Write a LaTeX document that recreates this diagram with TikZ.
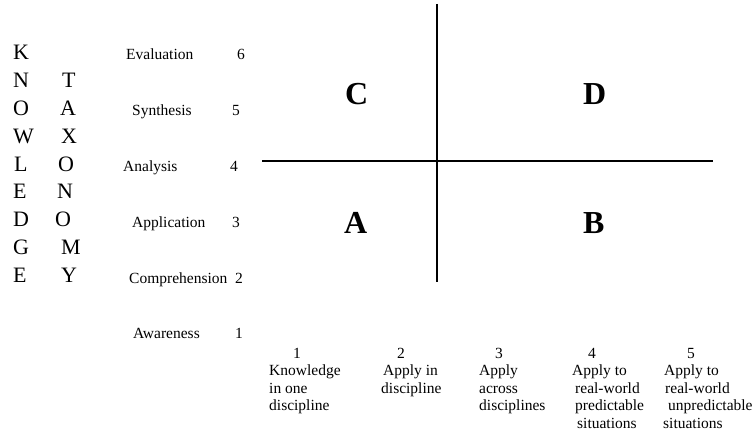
\documentclass[tikz,border=0pt]{standalone}
\usepackage{fontspec}
\setmainfont{Liberation Serif}
\begin{document}
\begin{tikzpicture}[x=1pt,y=-1pt,
  lbl/.style={anchor=base west,inner sep=0pt,font=\fontsize{15.5}{17}\selectfont},
  big/.style={anchor=base west,inner sep=0pt,font=\fontsize{22}{24}\selectfont},
  quad/.style={anchor=base west,inner sep=0pt,font=\fontsize{32}{34}\selectfont\bfseries},
  axis/.style={line width=1.5pt}]
\useasboundingbox (0,0) rectangle (754,433);
% KNOWLEDGE column
\node[big] (k1) at (13,60) {K};
\node[big] (k2) at (13,87.75) {N};
\node[big] (k3) at (13,115.5) {O};
\node[big] (k4) at (13,143.25) {W};
\node[big] (k5) at (14,171) {L};
\node[big] (k6) at (13,198.75) {E};
\node[big] (k7) at (13,226.5) {D};
\node[big] (k8) at (13,254.25) {G};
\node[big] (k9) at (13,282) {E};
% TAXONOMY column
\node[big] (t1) at (62,87.75) {T};
\node[big] (t2) at (60,115.5) {A};
\node[big] (t3) at (61,143.25) {X};
\node[big] (t4) at (58,171) {O};
\node[big] (t5) at (57,198.75) {N};
\node[big] (t6) at (55,226.5) {O};
\node[big] (t7) at (61,254.25) {M};
\node[big] (t8) at (61,282) {Y};
% levels
\node[lbl] (l6) at (126,60) {Evaluation};
\node[lbl] (n6) at (237,60) {6};
\node[lbl] (l5) at (132,116) {Synthesis};
\node[lbl] (n5) at (232,116) {5};
\node[lbl] (l4) at (123,171) {Analysis};
\node[lbl] (n4) at (230,171) {4};
\node[lbl] (l3) at (132,227) {Application};
\node[lbl] (n3) at (232,227) {3};
\node[lbl] (l2) at (129,283) {Comprehension};
\node[lbl] (n2) at (235,283) {2};
\node[lbl] (l1) at (133,338) {Awareness};
\node[lbl] (n1) at (235,338) {1};
% quadrant axes
\coordinate (vtop) at (437,4);
\coordinate (vbot) at (437,282);
\coordinate (hl) at (262,161);
\coordinate (hr) at (713,161);
\draw[axis] (vtop) -- (vbot);
\draw[axis] (hl) -- (hr);
% quadrant letters
\node[quad] (qC) at (345,105) {C};
\node[quad] (qD) at (583,105) {D};
\node[quad] (qA) at (344,233) {A};
\node[quad] (qB) at (583,233) {B};
% bottom scale
\node[lbl] (d1) at (293,358) {1};
\node[lbl] (c1a) at (269,375.5) {Knowledge};
\node[lbl] (c1b) at (269,393) {in one};
\node[lbl] (c1c) at (269,410.5) {discipline};
\node[lbl] (d2) at (397,358) {2};
\node[lbl] (c2a) at (383,375.5) {Apply in};
\node[lbl] (c2b) at (381,393) {discipline};
\node[lbl] (d3) at (495,358) {3};
\node[lbl] (c3a) at (479,375.5) {Apply};
\node[lbl] (c3b) at (479,393) {across};
\node[lbl] (c3c) at (479,410.5) {disciplines};
\node[lbl] (d4) at (588,358) {4};
\node[lbl] (c4a) at (572,375.5) {Apply to};
\node[lbl] (c4b) at (575,393) {real-world};
\node[lbl] (c4c) at (575,410.5) {predictable};
\node[lbl] (c4d) at (577,428) {situations};
\node[lbl] (d5) at (687,358) {5};
\node[lbl] (c5a) at (664,375.5) {Apply to};
\node[lbl] (c5b) at (665,393) {real-world};
\node[lbl] (c5c) at (668,410.5) {unpredictable};
\node[lbl] (c5d) at (663,428) {situations};
\end{tikzpicture}
\end{document}
